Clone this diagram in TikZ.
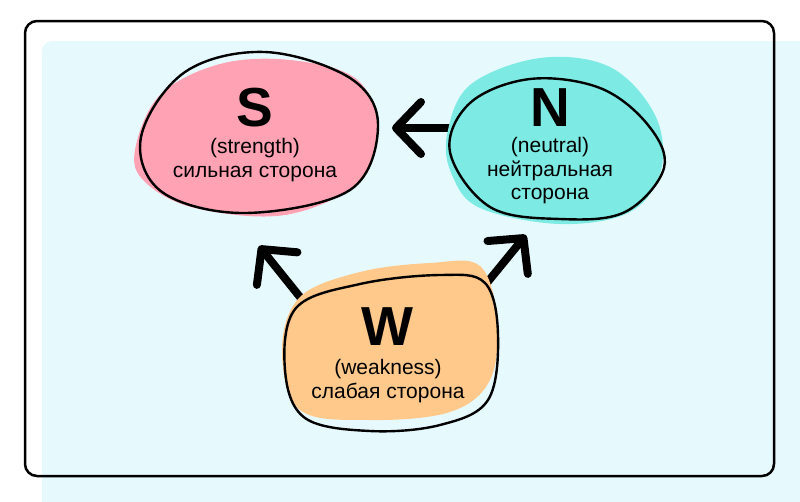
\documentclass[tikz,border=0pt]{standalone}
\usepackage{fontspec}
\setmainfont{Liberation Sans}
\usetikzlibrary{arrows.meta}
\definecolor{bgcyan}{HTML}{E6FAFE}
\definecolor{spink}{HTML}{FFA3B4}
\definecolor{nteal}{HTML}{7DEBE3}
\definecolor{worange}{HTML}{FFC98C}
\tikzset{
  blobline/.style={draw=black, line width=2.4pt},
  bigletter/.style={font=\fontsize{55}{55}\selectfont\bfseries, inner sep=0pt},
  subtext/.style={font=\fontsize{21}{23.5}\selectfont, align=center, inner sep=0pt},
  arr/.style={line width=8pt, line cap=round, -{Straight Barb[length=25pt,width=52pt,round]}},
}
\begin{document}
\begin{tikzpicture}[x=1pt,y=-1pt]
\useasboundingbox (0,0) rectangle (800,501);
\begin{scope}
\clip (0,0) rectangle (800,501);
\fill[bgcyan, rounded corners=10pt] (42,41) rectangle (830,530);
\end{scope}
\draw[line width=2.5pt, rounded corners=12pt] (25,21) rectangle (774,476);

% arrows (below blobs)
\coordinate (nsStart) at (452,128);
\coordinate (nsEnd) at (392,128);
\coordinate (wsStart) at (304,302);
\coordinate (wsEnd) at (259,246);
\coordinate (wnStart) at (486,284);
\coordinate (wnEnd) at (526,235);
\draw[arr] (nsStart) -- (nsEnd);
\draw[arr] (wsStart) -- (wsEnd);
\draw[arr] (wnStart) -- (wnEnd);

% S blob
\fill[spink] plot[smooth cycle, tension=0.6] coordinates {(135,150) (160,95) (220,64) (290,60) (355,78) (377,125) (358,182) (285,215) (195,208) (145,182)};
\draw[blobline] plot[smooth cycle, tension=0.6] coordinates {(141,137) (185,72) (265,52) (350,78) (378,125) (350,190) (245,213) (162,192)};

% N blob
\fill[nteal] plot[smooth cycle, tension=0.6] coordinates {(447,135) (470,85) (540,58) (610,67) (655,115) (661,170) (630,212) (560,224) (480,208) (452,175)};
\draw[blobline] plot[smooth cycle, tension=0.6] coordinates {(450,152) (470,103) (530,79) (600,88) (648,125) (664,168) (625,212) (560,219) (490,207)};

% W blob
\fill[worange] plot[smooth cycle, tension=0.6] coordinates {(282,350) (300,297) (360,272) (430,263) (480,266) (497,320) (490,380) (450,412) (370,420) (300,410)};
\draw[blobline] plot[smooth cycle, tension=0.6] coordinates {(285,370) (296,308) (360,284) (440,275) (485,283) (498,335) (488,400) (440,425) (370,431) (305,418)};

% texts
\node[bigletter] (sL) at (255,108) {S};
\node[subtext] (sT) at (255,160) {(strength)\\сильная сторона};
\node[bigletter] (nL) at (550,108) {N};
\node[subtext] (nT) at (550,171) {(neutral)\\нейтральная\\сторона};
\node[bigletter] (wL) at (387,327) {W};
\node[subtext] (wT) at (388,381) {(weakness)\\слабая сторона};
\end{tikzpicture}
\end{document}
